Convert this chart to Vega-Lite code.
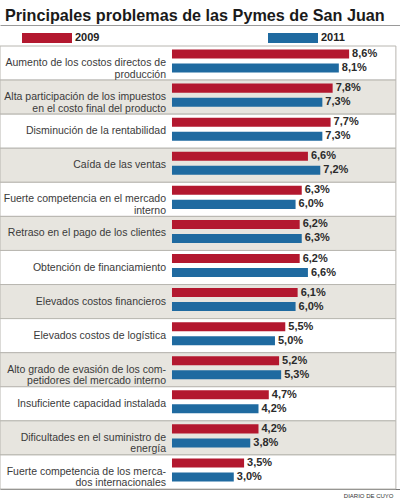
{
  "$schema": "https://vega.github.io/schema/vega-lite/v6.json",
  "width": 400,
  "height": 443,
  "autosize": {"type": "none"},
  "padding": {"top": 46, "left": 0, "right": 0, "bottom": 11},
  "background": "#ffffff",
  "title": {
    "text": "Principales problemas de las Pymes de San Juan",
    "anchor": "start",
    "frame": "group",
    "dx": 5,
    "dy": 16,
    "offset": 5,
    "font": "Liberation Sans",
    "fontSize": 16.2,
    "fontWeight": "bold",
    "color": "#1a1a1a"
  },
  "config": {
    "view": {"stroke": null},
    "locale": {"number": {"decimal": ",", "thousands": ".", "grouping": [3], "currency": ["$", ""]}},
    "font": "Liberation Sans"
  },
  "data": {
    "values": [
      {"rank": 1, "problem": "Aumento de los costos directos de|producción", "year": "2009", "value": 0.086},
      {"rank": 1, "problem": "Aumento de los costos directos de|producción", "year": "2011", "value": 0.081},
      {"rank": 2, "problem": "Alta participación de los impuestos|en el costo final del producto", "year": "2009", "value": 0.078},
      {"rank": 2, "problem": "Alta participación de los impuestos|en el costo final del producto", "year": "2011", "value": 0.073},
      {"rank": 3, "problem": "Disminución de la rentabilidad", "year": "2009", "value": 0.077},
      {"rank": 3, "problem": "Disminución de la rentabilidad", "year": "2011", "value": 0.073},
      {"rank": 4, "problem": "Caída de las ventas", "year": "2009", "value": 0.066},
      {"rank": 4, "problem": "Caída de las ventas", "year": "2011", "value": 0.072},
      {"rank": 5, "problem": "Fuerte competencia en el mercado|interno", "year": "2009", "value": 0.063},
      {"rank": 5, "problem": "Fuerte competencia en el mercado|interno", "year": "2011", "value": 0.060},
      {"rank": 6, "problem": "Retraso en el pago de los clientes", "year": "2009", "value": 0.062},
      {"rank": 6, "problem": "Retraso en el pago de los clientes", "year": "2011", "value": 0.063},
      {"rank": 7, "problem": "Obtención de financiamiento", "year": "2009", "value": 0.062},
      {"rank": 7, "problem": "Obtención de financiamiento", "year": "2011", "value": 0.066},
      {"rank": 8, "problem": "Elevados costos financieros", "year": "2009", "value": 0.061},
      {"rank": 8, "problem": "Elevados costos financieros", "year": "2011", "value": 0.060},
      {"rank": 9, "problem": "Elevados costos de logística", "year": "2009", "value": 0.055},
      {"rank": 9, "problem": "Elevados costos de logística", "year": "2011", "value": 0.050},
      {"rank": 10, "problem": "Alto grado de evasión de los com-|petidores del mercado interno", "year": "2009", "value": 0.052},
      {"rank": 10, "problem": "Alto grado de evasión de los com-|petidores del mercado interno", "year": "2011", "value": 0.053},
      {"rank": 11, "problem": "Insuficiente capacidad instalada", "year": "2009", "value": 0.047},
      {"rank": 11, "problem": "Insuficiente capacidad instalada", "year": "2011", "value": 0.042},
      {"rank": 12, "problem": "Dificultades en el suministro de|energía", "year": "2009", "value": 0.042},
      {"rank": 12, "problem": "Dificultades en el suministro de|energía", "year": "2011", "value": 0.038},
      {"rank": 13, "problem": "Fuerte competencia de los merca-|dos internacionales", "year": "2009", "value": 0.035},
      {"rank": 13, "problem": "Fuerte competencia de los merca-|dos internacionales", "year": "2011", "value": 0.030}
    ]
  },
  "encoding": {
    "y": {"field": "rank", "type": "ordinal", "axis": null, "scale": {"paddingInner": 0, "paddingOuter": 0}}
  },
  "resolve": {"axis": {"x": "independent"}},
  "layer": [
    {
      "transform": [{"filter": "datum.year == '2009'"}],
      "mark": {"type": "rect", "stroke": "#b8b6b0", "strokeWidth": 1},
      "encoding": {
        "x": {"datum": -0.0835, "type": "quantitative", "scale": {"domain": [-0.0835, 0.1107], "nice": false, "zero": false},
          "axis": {"orient": "top", "offset": 21, "domainColor": "#9a9a9a", "domainWidth": 1, "ticks": false, "labels": false, "grid": false, "title": null}},
        "x2": {"datum": 0.1087},
        "fill": {"condition": {"test": "datum.rank % 2 == 0", "value": "#e7e5df"}, "value": "#ffffff"}
      }
    },
    {
      "mark": {"type": "rule", "color": "#555555", "strokeWidth": 1},
      "encoding": {
        "x": {"datum": 0, "type": "quantitative",
          "axis": {"orient": "bottom", "domainColor": "#777777", "domainWidth": 1, "ticks": false, "labels": false, "grid": false,
            "title": "DIARIO DE CUYO", "titleAnchor": "end", "titleFontSize": 6, "titleFontWeight": "normal", "titleColor": "#333333", "titlePadding": 3, "titleX": 393}}
      }
    },
    {
      "mark": {"type": "bar"},
      "encoding": {
        "x": {"field": "value", "type": "quantitative", "axis": null},
        "x2": {"datum": 0},
        "yOffset": {"field": "year", "type": "nominal", "scale": {"paddingInner": 0.357, "paddingOuter": 0.393, "align": 0.32}},
        "color": {"field": "year", "type": "nominal",
          "scale": {"domain": ["2009", "2011"], "range": ["#b3182f", "#1f6aa0"]},
          "legend": {"orient": "none", "legendX": 22, "legendY": -33, "direction": "horizontal", "title": null,
            "symbolType": "M-1,-0.2H1V0.2H-1Z", "symbolSize": 2500, "symbolStrokeWidth": 0, "symbolOpacity": 1,
            "labelFontSize": 11, "labelFontWeight": "bold", "labelColor": "#222222", "labelOffset": 3, "columnPadding": 168}}
      }
    },
    {
      "mark": {"type": "text", "align": "left", "baseline": "middle", "dx": 3, "fontSize": 11, "fontWeight": "bold", "color": "#2b2b2b"},
      "encoding": {
        "x": {"field": "value", "type": "quantitative", "axis": null},
        "yOffset": {"field": "year", "type": "nominal"},
        "text": {"field": "value", "type": "quantitative", "format": ".1%"}
      }
    },
    {
      "transform": [{"filter": "datum.year == '2009'"}],
      "mark": {"type": "text", "align": "right", "baseline": "middle", "dx": -6, "fontSize": 10.5, "lineHeight": 11.5, "lineBreak": "|", "color": "#3a3a3a"},
      "encoding": {
        "x": {"datum": 0, "type": "quantitative", "axis": null},
        "text": {"field": "problem", "type": "nominal"}
      }
    }
  ]
}
